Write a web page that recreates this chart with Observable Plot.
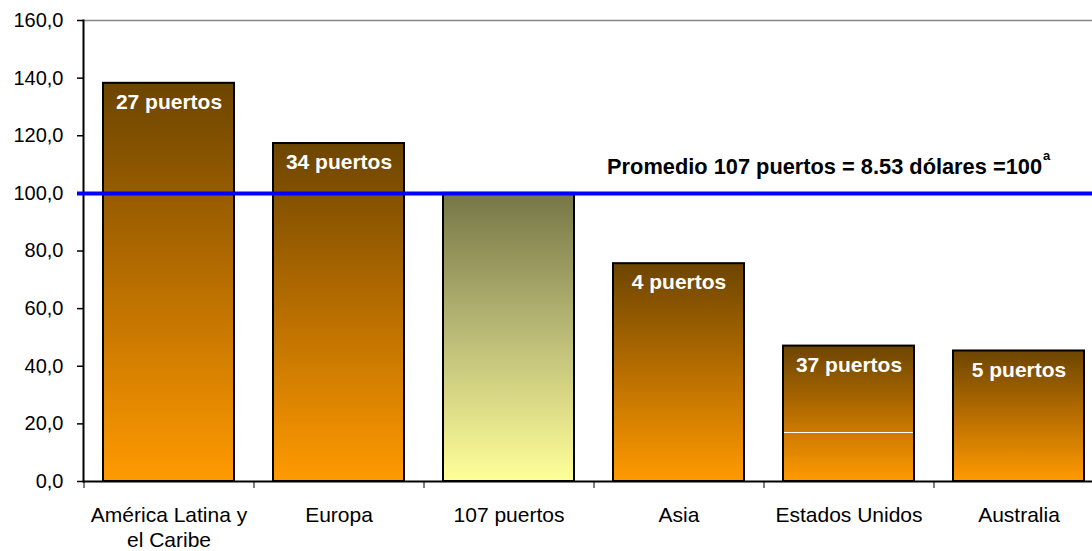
<!DOCTYPE html>
<html>
<head>
<meta charset="utf-8">
<script src="https://cdn.jsdelivr.net/npm/d3@7"></script>
<script src="https://cdn.jsdelivr.net/npm/@observablehq/plot@0.6"></script>
<style>
  html, body { margin: 0; padding: 0; background: white; overflow: hidden; }
</style>
</head>
<body>
<div id="chart"></div>
<script>
const categories = ["América Latina y el Caribe", "Europa", "107 puertos", "Asia", "Estados Unidos", "Australia"];
const categoryLabels = ["América Latina y\nel Caribe", "Europa", "107 puertos", "Asia", "Estados Unidos", "Australia"];
const values = [138.2, 117.3, 100, 75.6, 47.0, 45.3];
const portLabels = ["27 puertos", "34 puertos", "", "4 puertos", "37 puertos", "5 puertos"];
const yTicks = [0, 20, 40, 60, 80, 100, 120, 140, 160];
const averageValue = 100;
const averageLabel = "Promedio 107 puertos = 8.53 dólares =100";
const averageNote = "a";
const referenceCategory = "107 puertos";
const splitCategory = "Estados Unidos";
const splitValue = 17;

const data = categories.map((c, i) => ({category: c, value: values[i], label: portLabels[i]}));
const labelOf = new Map(categories.map((c, i) => [c, categoryLabels[i]]));
const font = "'Liberation Sans', Arial, sans-serif";

const chart = Plot.plot({
  width: 1092,
  height: 551,
  marginTop: 20,
  marginBottom: 70,
  marginLeft: 83,
  marginRight: 0,
  style: {fontFamily: font, fontSize: "20px", color: "black", background: "white", overflow: "visible"},
  x: {domain: categories, range: [83, 1103], paddingInner: 0.23, paddingOuter: 0.115, label: null},
  y: {domain: [0, 160], label: null},
  marks: [
    Plot.barY(data.filter(d => d.category !== referenceCategory), {x: "category", y: "value", fill: "url(#gradOrange)", stroke: "black", strokeWidth: 2}),
    Plot.barY(data.filter(d => d.category === referenceCategory), {x: "category", y: "value", fill: "url(#gradYellow)", stroke: "black", strokeWidth: 2}),
    Plot.tickY([{category: splitCategory, value: splitValue}], {x: "category", y: "value", stroke: "white", strokeWidth: 1, inset: 1}),
    Plot.frame({anchor: "top", stroke: "#888888", strokeWidth: 1.5}),
    Plot.frame({anchor: "left", stroke: "black", strokeWidth: 2}),
    Plot.ruleY([0], {stroke: "black", strokeWidth: 2}),
    Plot.ruleX(categories, {x: d => d, dx: -85, insetTop: 461, insetBottom: -7, stroke: "black", strokeWidth: 1}),
    Plot.axisY({ticks: yTicks, tickFormat: d => d.toFixed(1).replace(".", ","), tickSize: 6, tickPadding: 14, fontSize: 20, stroke: "black", strokeWidth: 1.5, label: null}),
    Plot.axisX({tickSize: 0, tickPadding: 22, fontSize: 21, lineHeight: 1.22, tickFormat: d => labelOf.get(d), label: null}),
    Plot.ruleY([averageValue], {stroke: "#0000ff", strokeWidth: 4, insetLeft: -6}),
    Plot.text(data.filter(d => d.label), {x: "category", y: "value", text: "label", dy: 19, fill: "white", fontWeight: "bold", fontSize: 21}),
    Plot.text([{category: "Australia", value: averageValue, t: averageLabel}], {x: "category", y: "value", text: "t", dx: 23, dy: -26, textAnchor: "end", fontWeight: "bold", fontSize: 21.8, fill: "black"}),
    Plot.text([{category: "Australia", value: averageValue, t: averageNote}], {x: "category", y: "value", text: "t", dx: 24, dy: -38, textAnchor: "start", fontWeight: "bold", fontSize: 13, fill: "black"})
  ]
});

d3.select(chart).insert("defs", ":first-child").html(`
  <linearGradient id="gradOrange" x1="0" y1="0" x2="0" y2="1">
    <stop offset="0" stop-color="#6c4500"/>
    <stop offset="0.5" stop-color="#b86e00"/>
    <stop offset="1" stop-color="#ff9a00"/>
  </linearGradient>
  <linearGradient id="gradYellow" x1="0" y1="0" x2="0" y2="1">
    <stop offset="0" stop-color="#767646"/>
    <stop offset="0.5" stop-color="#bcbc78"/>
    <stop offset="1" stop-color="#ffff99"/>
  </linearGradient>
`);

document.getElementById("chart").appendChild(chart);
</script>
</body>
</html>
